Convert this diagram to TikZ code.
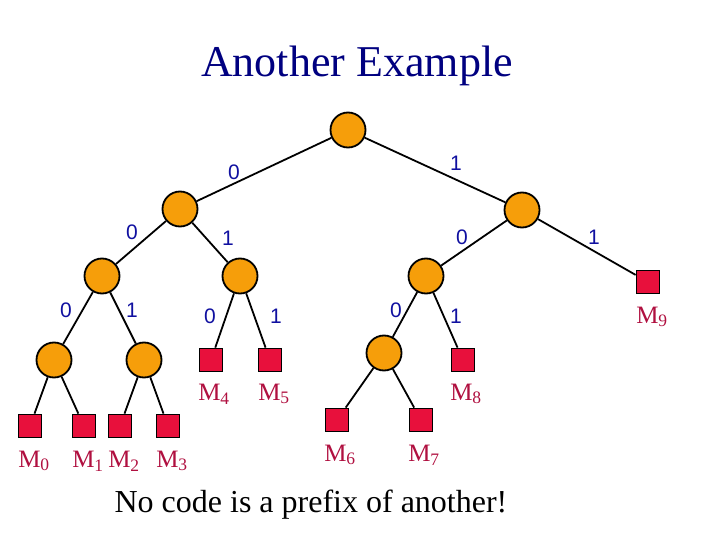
\documentclass[tikz,border=0pt]{standalone}
\usepackage{fontspec}
\setmainfont{Liberation Serif}
\newfontfamily\labelfont{Liberation Sans}
\definecolor{nodeorange}{RGB}{246,158,10}
\definecolor{leafred}{RGB}{232,16,60}
\definecolor{msgred}{RGB}{176,16,64}
\definecolor{bitblue}{RGB}{16,16,160}
\definecolor{titleblue}{RGB}{0,0,128}
\tikzset{
  inner/.style={draw,circle,fill=nodeorange,line width=1.8pt,minimum size=35pt,inner sep=0pt},
  leaf/.style={draw,rectangle,fill=leafred,line width=1.8pt,minimum size=23pt,inner sep=0pt},
  bit/.style={text=bitblue,font=\labelfont\fontsize{21}{21}\selectfont,inner sep=0pt},
  msg/.style={text=msgred,font=\fontsize{25}{25}\selectfont,inner sep=0pt}
}
\begin{document}
\begin{tikzpicture}[x=1pt,y=-1pt]
\useasboundingbox (0,0) rectangle (720,540);

\node[text=titleblue,font=\fontsize{44}{44}\selectfont] (title) at (357,66) {Another Example};

% inner nodes
\node[inner] (root) at (348,130) {};
\node[inner] (n0) at (180,209) {};
\node[inner] (n1) at (522,210) {};
\node[inner] (n00) at (102,276) {};
\node[inner] (n01) at (240,276) {};
\node[inner] (n10) at (426,276) {};
\node[inner] (n000) at (54,360) {};
\node[inner] (n001) at (144,360) {};
\node[inner] (n100) at (384,353) {};

% leaves
\node[leaf] (m0) at (30,426) {};
\node[leaf] (m1) at (84,426) {};
\node[leaf] (m2) at (120,426) {};
\node[leaf] (m3) at (168,426) {};
\node[leaf] (m4) at (211,360) {};
\node[leaf] (m5) at (270,360) {};
\node[leaf] (m6) at (337,420) {};
\node[leaf] (m7) at (421,420) {};
\node[leaf] (m8) at (463,360) {};
\node[leaf] (m9) at (648,282) {};

\path[line width=1.8pt] (root) edge (n0)
  (root) edge (n1)
  (n0) edge (n00)
  (n0) edge (n01)
  (n1) edge (n10)
  (n1) edge (m9)
  (n00) edge (n000)
  (n00) edge (n001)
  (n01) edge (m4)
  (n01) edge (m5)
  (n10) edge (n100)
  (n10) edge (m8)
  (n000) edge (m0)
  (n000) edge (m1)
  (n001) edge (m2)
  (n001) edge (m3)
  (n100) edge (m6)
  (n100) edge (m7);

% bits on the branches
\node[bit] (b0) at (234,172) {0};
\node[bit] (b1) at (456,163) {1};
\node[bit] (b00) at (132,232) {0};
\node[bit] (b01) at (228,238) {1};
\node[bit] (b10) at (462,237) {0};
\node[bit] (b11) at (594,237) {1};
\node[bit] (b000) at (66,310) {0};
\node[bit] (b001) at (132,310) {1};
\node[bit] (b010) at (210,316) {0};
\node[bit] (b011) at (276,316) {1};
\node[bit] (b100) at (396,310) {0};
\node[bit] (b101) at (456,316) {1};

% message names
\node[msg] (t0) at (34,461) {M\textsubscript{0}};
\node[msg] (t1) at (88,461) {M\textsubscript{1}};
\node[msg] (t2) at (124,461) {M\textsubscript{2}};
\node[msg] (t3) at (172,461) {M\textsubscript{3}};
\node[msg] (t4) at (214,394) {M\textsubscript{4}};
\node[msg] (t5) at (274,394) {M\textsubscript{5}};
\node[msg] (t6) at (340,455) {M\textsubscript{6}};
\node[msg] (t7) at (424,455) {M\textsubscript{7}};
\node[msg] (t8) at (466,394) {M\textsubscript{8}};
\node[msg] (t9) at (652,317) {M\textsubscript{9}};

\node[font=\fontsize{32}{32}\selectfont] (note) at (311,505) {No code is a prefix of another!};
\end{tikzpicture}
\end{document}
